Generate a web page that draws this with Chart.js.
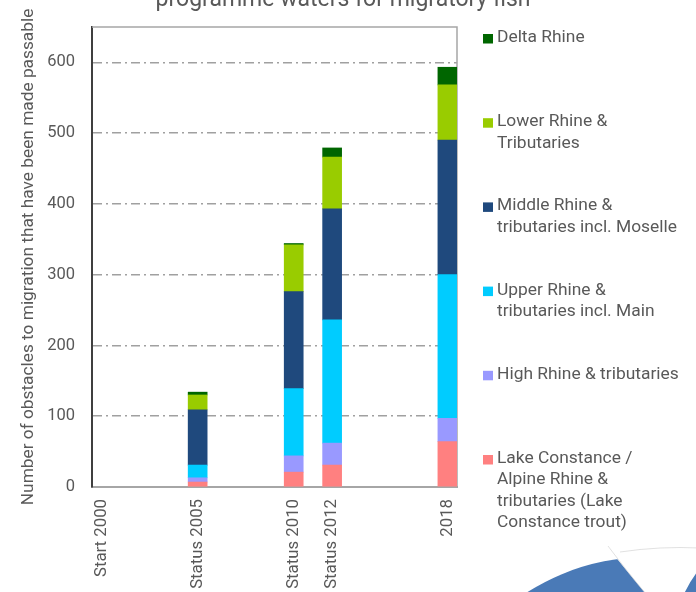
<!DOCTYPE html>
<html>
<head>
<meta charset="utf-8">
<script src="https://cdn.jsdelivr.net/npm/chart.js@4.4.1/dist/chart.umd.min.js"></script>
<style>
  html, body { margin: 0; padding: 0; background: #ffffff; }
  #wrap { position: relative; width: 696px; height: 592px; overflow: hidden; }
  canvas { display: block; }
</style>
</head>
<body>
<div id="wrap"><canvas id="chart" width="696" height="592"></canvas></div>
<script>
// ---- data ----
const years = [2005, 2010, 2012, 2018];
const xTickValues = [2000, 2005, 2010, 2012, 2018];
const xTickLabels = ['Start 2000', 'Status 2005', 'Status 2010', 'Status 2012', '2018'];
const yTickValues = [0, 100, 200, 300, 400, 500, 600];

const lakeConstance = [7, 21, 31, 64];
const highRhine     = [6, 23, 31, 33];
const upperRhine    = [18, 95, 174, 203];
const middleRhine   = [78, 137, 157, 190];
const lowerRhine    = [21, 66, 73, 78];
const deltaRhine    = [4, 2, 13, 25];

const seriesNames = [
  'Lake Constance / Alpine Rhine & tributaries (Lake Constance trout)',
  'High Rhine & tributaries',
  'Upper Rhine & tributaries incl. Main',
  'Middle Rhine & tributaries incl. Moselle',
  'Lower Rhine & Tributaries',
  'Delta Rhine'
];
const legendLines = [
  ['Lake Constance /', 'Alpine Rhine &', 'tributaries (Lake', 'Constance trout)'],
  ['High Rhine & tributaries'],
  ['Upper Rhine &', 'tributaries incl. Main'],
  ['Middle Rhine &', 'tributaries incl. Moselle'],
  ['Lower Rhine &', 'Tributaries'],
  ['Delta Rhine']
];
const seriesValues = [lakeConstance, highRhine, upperRhine, middleRhine, lowerRhine, deltaRhine];
const seriesColors = ['#ff8080', '#9999ff', '#00ccff', '#1f497d', '#99cc00', '#006600'];

const titleText = 'programme waters for migratory fish';
const yTitleText = 'Number of obstacles to migration that have been made passable';

const TEXT = '#595959';
const FONT = 'Roboto';

const decorPlugin = {
  id: 'decor',
  beforeDraw(chart) {
    const ctx = chart.ctx;
    ctx.save();
    ctx.beginPath();
    ctx.rect(0, 0, 696, 592);
    ctx.clip();
    // background logo fragment (bottom right)
    ctx.fillStyle = '#4a7ab7';
    ctx.beginPath();
    ctx.arc(648, 782, 225, 0, Math.PI * 2);
    ctx.fill();
    ctx.fillStyle = '#ffffff';
    ctx.beginPath();
    ctx.moveTo(610, 550);
    ctx.quadraticCurveTo(630, 575, 646, 594);
    ctx.lineTo(684, 594);
    ctx.quadraticCurveTo(694, 572, 712, 556);
    ctx.quadraticCurveTo(660, 545, 610, 550);
    ctx.closePath();
    ctx.fill();
    ctx.strokeStyle = 'rgba(205,205,205,0.6)';
    ctx.lineWidth = 1;
    ctx.beginPath();
    ctx.moveTo(608, 546);
    ctx.quadraticCurveTo(630, 575, 646, 594);
    ctx.stroke();
    ctx.beginPath();
    ctx.moveTo(620, 552);
    ctx.quadraticCurveTo(660, 546, 700, 548);
    ctx.stroke();
    // title (its upper line is cut off at the top of the picture)
    ctx.fillStyle = TEXT;
    ctx.font = '23px ' + FONT;
    ctx.textAlign = 'center';
    ctx.textBaseline = 'alphabetic';
    ctx.fillText(titleText, 343, 6);
    ctx.restore();
  },
  beforeDatasetsDraw(chart) {
    const {ctx, chartArea: a} = chart;
    ctx.save();
    ctx.strokeStyle = '#a6a6a6';
    ctx.lineWidth = 1.5;
    ctx.beginPath();
    ctx.moveTo(a.left, a.top);
    ctx.lineTo(a.right, a.top);
    ctx.lineTo(a.right, a.bottom);
    ctx.stroke();
    ctx.restore();
  },
  afterDraw(chart) {
    const ctx = chart.ctx;
    ctx.save();
    ctx.font = '17.4px ' + FONT;
    ctx.textAlign = 'left';
    ctx.textBaseline = 'alphabetic';
    const n = chart.data.datasets.length;
    for (let k = 0; k < n; k++) {
      const ds = chart.data.datasets[n - 1 - k];
      const lines = legendLines[n - 1 - k];
      const y0 = 36 + k * 84.2;
      ctx.fillStyle = ds.backgroundColor;
      ctx.fillRect(483, y0 - 2, 10, 9.5);
      ctx.fillStyle = TEXT;
      lines.forEach((t, j) => ctx.fillText(t, 497, y0 + 6 + j * 21.3));
    }
    ctx.restore();
  }
};

const datasets = seriesNames.map((name, i) => ({
  label: name,
  data: years.map((yr, j) => ({ x: yr, y: seriesValues[i][j] })),
  backgroundColor: seriesColors[i],
  borderWidth: 0,
  barThickness: 19
}));

new Chart(document.getElementById('chart'), {
  type: 'bar',
  data: { datasets },
  options: {
    responsive: false,
    animation: false,
    layout: { padding: { top: 25, right: 239, left: 0, bottom: 0 } },
    plugins: {
      legend: { display: false },
      title: { display: false },
      tooltip: { enabled: false }
    },
    scales: {
      x: {
        type: 'linear',
        stacked: true,
        min: 1999.5,
        max: 2018.5,
        offset: false,
        afterBuildTicks: s => { s.ticks = xTickValues.map(v => ({ value: v })); },
        afterFit: s => { s.height = 105; },
        ticks: {
          autoSkip: false,
          minRotation: 90,
          maxRotation: 90,
          padding: 12,
          color: TEXT,
          font: { family: FONT, size: 16.8 },
          callback: (v, i) => xTickLabels[i]
        },
        grid: { display: false, drawTicks: false },
        border: { display: true, color: '#a6a6a6', width: 2 }
      },
      y: {
        type: 'linear',
        stacked: true,
        min: 0,
        max: 650,
        afterBuildTicks: s => { s.ticks = yTickValues.map(v => ({ value: v })); },
        afterFit: s => { s.width = 92; },
        ticks: {
          padding: 17,
          color: TEXT,
          font: { family: FONT, size: 16.5 }
        },
        grid: {
          drawTicks: false,
          lineWidth: 1.5,
          color: c => (c.tick && c.tick.value === 0) ? 'rgba(0,0,0,0)' : '#a0a0a0'
        },
        border: { display: true, color: '#3f3f3f', width: 2, dash: [9, 4, 2, 4] },
        title: {
          display: true,
          text: yTitleText,
          color: TEXT,
          font: { family: FONT, size: 17.3 },
          padding: { top: 18, bottom: 0 }
        }
      }
    }
  },
  plugins: [decorPlugin]
});
</script>
</body>
</html>
